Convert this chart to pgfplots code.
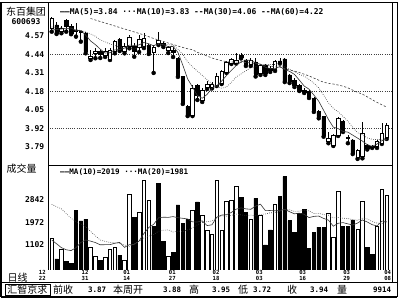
\documentclass[border=0pt]{standalone}
\usepackage{pgfplots}
\pgfplotsset{compat=1.18}
\usepackage{pgfplotstable}
\usepackage{fontspec}
\setmainfont{DejaVu Sans}
\newfontfamily\cjk{Noto Sans CJK SC}
\newfontfamily\mono{DejaVu Sans Mono}
\newcommand{\mf}{\mono\bfseries\fontsize{8}{9}\selectfont}
\newcommand{\lf}{\mono\bfseries\fontsize{7.95}{9}\selectfont}
\newcommand{\vf}{\mono\bfseries\fontsize{7.6}{9}\selectfont}
\newcommand{\bfn}{\mono\bfseries\fontsize{7.5}{9}\selectfont}
\newcommand{\df}{\mono\bfseries\fontsize{5.6}{6}\selectfont}
\newcommand{\cf}{\cjk\fontsize{10}{10}\selectfont}

\pgfplotstableread{
i o h l c
0 4.623 4.704 4.599 4.693
1 4.646 4.669 4.583 4.588
2 4.599 4.639 4.588 4.623
3 4.681 4.686 4.599 4.634
4 4.634 4.653 4.581 4.588
5 4.611 4.658 4.564 4.600
6 4.604 4.606 4.529 4.593
7 4.590 4.597 4.447 4.458
8 4.414 4.470 4.400 4.428
9 4.446 4.482 4.412 4.460
10 4.458 4.470 4.414 4.439
11 4.435 4.482 4.421 4.458
12 4.405 4.482 4.400 4.470
13 4.458 4.541 4.447 4.529
14 4.545 4.552 4.463 4.470
15 4.458 4.517 4.447 4.493
16 4.493 4.576 4.482 4.562
17 4.493 4.517 4.423 4.458
18 4.491 4.576 4.456 4.548
19 4.493 4.593 4.484 4.555
20 4.505 4.512 4.442 4.447
21 4.456 4.505 4.309 4.491
22 4.519 4.597 4.505 4.541
23 4.516 4.526 4.491 4.502
24 4.467 4.498 4.449 4.488
25 4.470 4.488 4.421 4.453
26 4.412 4.423 4.281 4.283
27 4.283 4.288 4.091 4.096
28 4.072 4.084 4.006 4.014
29 4.014 4.224 4.006 4.203
30 4.224 4.231 4.119 4.154
31 4.119 4.203 4.105 4.189
32 4.207 4.252 4.196 4.228
33 4.210 4.245 4.200 4.231
34 4.224 4.309 4.217 4.288
35 4.238 4.330 4.231 4.323
36 4.316 4.393 4.309 4.386
37 4.377 4.414 4.372 4.407
38 4.379 4.447 4.375 4.400
39 4.435 4.446 4.411 4.418
40 4.400 4.407 4.358 4.372
41 4.372 4.414 4.358 4.396
42 4.386 4.411 4.284 4.302
43 4.309 4.372 4.295 4.365
44 4.365 4.372 4.295 4.309
45 4.342 4.358 4.316 4.326
46 4.333 4.400 4.323 4.388
47 4.393 4.412 4.375 4.386
48 4.407 4.414 4.245 4.252
49 4.295 4.302 4.238 4.247
50 4.259 4.273 4.210 4.221
51 4.224 4.231 4.182 4.189
52 4.184 4.203 4.168 4.175
53 4.177 4.189 4.133 4.142
54 4.131 4.140 4.035 4.044
55 4.037 4.049 3.990 4.002
56 4.002 4.006 3.861 3.873
57 3.826 3.896 3.815 3.850
58 3.803 3.880 3.796 3.873
59 3.873 3.999 3.866 3.990
60 3.966 3.978 3.894 3.905
61 3.855 3.873 3.815 3.848
62 3.838 3.845 3.739 3.744
63 3.715 3.775 3.705 3.768
64 3.720 3.966 3.709 3.885
65 3.803 3.810 3.771 3.779
66 3.794 3.803 3.782 3.787
67 3.791 3.838 3.782 3.826
68 3.815 3.955 3.810 3.885
69 3.860 3.955 3.845 3.940
}\candles

\pgfplotstableread{
i m5 m10
0 4.611 4.632
1 4.614 4.628
2 4.618 4.625
3 4.621 4.621
4 4.625 4.618
5 4.606 4.614
6 4.608 4.607
7 4.575 4.597
8 4.534 4.583
9 4.508 4.567
10 4.476 4.541
11 4.449 4.528
12 4.451 4.513
13 4.471 4.502
14 4.473 4.491
15 4.484 4.480
16 4.505 4.477
17 4.502 4.477
18 4.506 4.489
19 4.523 4.498
20 4.514 4.499
21 4.500 4.502
22 4.516 4.509
23 4.507 4.507
24 4.494 4.508
25 4.495 4.504
26 4.453 4.476
27 4.364 4.440
28 4.267 4.387
29 4.210 4.352
30 4.150 4.322
31 4.131 4.292
32 4.158 4.261
33 4.201 4.234
34 4.218 4.214
35 4.252 4.201
36 4.291 4.211
37 4.327 4.242
38 4.361 4.281
39 4.387 4.302
40 4.397 4.324
41 4.399 4.345
42 4.378 4.352
43 4.371 4.366
44 4.349 4.368
45 4.340 4.368
46 4.338 4.368
47 4.355 4.366
48 4.332 4.351
49 4.320 4.334
50 4.299 4.319
51 4.259 4.299
52 4.217 4.286
53 4.195 4.264
54 4.154 4.237
55 4.110 4.204
56 4.047 4.153
57 3.982 4.099
58 3.928 4.061
59 3.918 4.036
60 3.898 4.004
61 3.893 3.970
62 3.872 3.927
63 3.851 3.889
64 3.830 3.874
65 3.805 3.852
66 3.793 3.843
67 3.809 3.841
68 3.833 3.842
69 3.843 3.837
}\pma

\pgfplotstableread{
i v10 v20
0 1290 2650
1 1150 2560
2 1000 2480
3 920 2300
4 890 2118
5 1000 2000
6 1200 1900
7 1290 1800
8 1250 1620
9 1195 1450
10 1109 1292
11 1114 1240
12 1114 1200
13 1169 1180
14 1202 1167
15 1012 1100
16 1115 1050
17 1123 1150
18 1254 1250
19 1541 1368
20 1770 1439
21 1888 1501
22 2139 1627
23 2160 1665
24 2154 1678
25 2183 1598
26 2141 1628
27 2118 1620
28 2093 1674
29 1982 1761
30 1977 1873
31 2021 1954
32 1841 1990
33 1870 2015
34 2159 2156
35 2241 2212
36 2255 2198
37 2342 2230
38 2466 2279
39 2515 2248
40 2477 2227
41 2461 2241
42 2584 2212
43 2656 2263
44 2412 2285
45 2414 2328
46 2403 2329
47 2421 2381
48 2459 2462
49 2368 2442
50 2290 2383
51 2313 2387
52 2271 2427
53 2144 2400
54 2192 2302
55 2204 2309
56 2115 2259
57 2049 2235
58 1818 2138
59 1928 2148
60 1954 2122
61 1906 2109
62 1865 2068
63 1938 2041
64 2056 2124
65 1978 2091
66 1876 1995
67 1828 1938
68 2012 1915
69 1998 1963
}\vma

\pgfplotsset{
  priceax/.style={at={(48pt,135pt)}, anchor=south west, scale only axis,
    width=344pt, height=162.5pt, xmin=-0.762, xmax=70.09,
    ymin=3.6621, ymax=4.804, axis line style={draw=none},
    xtick=\empty, ytick=\empty, major tick length=0pt, clip=true},
}

\begin{document}
\begin{tikzpicture}[x=1pt,y=1pt]
\useasboundingbox (0pt,0pt) rectangle (400pt,300pt);
\fill[white] (0pt,0pt) rectangle (400pt,300pt);

% price: grid, ticks, wicks
\begin{axis}[priceax,
  ytick={3.79,3.92,4.05,4.18,4.31,4.44,4.57},
  yticklabels={3.79,3.92,4.05,4.18,4.31,4.44,4.57},
  yticklabel style={font=\mf, anchor=east, inner sep=0pt, xshift=-3.5pt},
  extra y ticks={3.92,4.18,4.44}, extra y tick labels={},
  extra y tick style={grid=major, major grid style={black!75, line width=0.6pt, dash pattern=on 0.7pt off 1.5pt}}]
\addplot[only marks, mark=none, error bars/.cd, y dir=plus, y explicit, error mark=none,
  error bar style={black, solid, line width=0.7pt}]
  table[x=i, y=l, y error expr=\thisrow{h}-\thisrow{l}] {\candles};
\end{axis}

% price: bodies
\begin{axis}[priceax, ybar stacked, bar width=3.5pt]
\addplot[draw=none, fill=none] table[x=i, y expr={min(\thisrow{o},\thisrow{c})}] {\candles};
\addplot[draw=black, fill=white, line width=0.6pt] table[x=i, y expr={max(\thisrow{c}-\thisrow{o},0)}] {\candles};
\addplot[draw=black, fill=black, line width=0.6pt] table[x=i, y expr={max(\thisrow{o}-\thisrow{c},0)}] {\candles};
\end{axis}

% price: moving averages
\begin{axis}[priceax]
\addplot[black!80, line width=0.6pt] table[x=i, y=m5] {\pma};
\addplot[black!75, line width=0.6pt, dash pattern=on 0.7pt off 1.4pt] table[x=i, y=m10] {\pma};
\addplot[black!75, line width=0.6pt, dash pattern=on 2.2pt off 1.8pt] coordinates {
(8,4.692) (9,4.681) (11,4.660) (13,4.639) (15,4.618) (17,4.597) (19,4.576) (21,4.551)
(23,4.530) (25,4.509) (27,4.488) (28,4.479) (29,4.472) (30,4.454) (31,4.441) (32,4.428)
(33,4.414) (34,4.404) (35,4.395) (36,4.388) (37,4.386) (38,4.385) (39,4.384) (40,4.382)
(41,4.380) (42,4.374) (43,4.369) (44,4.363) (45,4.358) (46,4.352) (47,4.350) (48,4.340)
(49,4.329) (50,4.322) (51,4.312) (52,4.300) (53,4.288) (54,4.273) (55,4.258) (56,4.244)
(57,4.236) (58,4.231) (59,4.224) (60,4.216) (61,4.204) (62,4.188) (63,4.173) (64,4.160)
(65,4.141) (66,4.121) (67,4.102) (68,4.085) (69,4.069)};
\end{axis}

% volume
\begin{axis}[at={(48pt,30pt)}, anchor=south west, scale only axis,
  width=344pt, height=105pt, xmin=-0.762, xmax=70.09,
  ymin=150.25, ymax=4147.6, axis line style={draw=none},
  xtick=\empty, ytick={1102,1972,2842}, yticklabels={1102,1972,2842},
  yticklabel style={font=\mf, anchor=east, inner sep=0pt, xshift=-3.5pt},
  major tick length=0pt, clip=true]
\addplot[ybar, bar width=3.5pt, bar shift=0pt, draw=black, fill=white, line width=0.6pt] coordinates {
(0,1357) (2,938) (8,1014) (9,683) (11,619) (12,938) (13,1014) (15,531) (16,3044) (18,2332)
(19,3550) (20,2789) (24,657) (29,2434) (31,2244) (32,1646) (33,1521) (34,3550) (35,1646)
(36,2766) (37,2789) (38,3321) (41,2080) (43,2244) (46,2651) (57,2309) (58,1395) (59,3131)
(63,1711) (64,2766) (67,1825) (68,3234) (69,2994)};
\addplot[ybar, bar width=3.5pt, bar shift=0pt, draw=black, fill=black, line width=0.6pt] coordinates {
(1,569) (3,466) (4,390) (5,2434) (6,2016) (7,2080) (10,504) (14,721) (17,2157) (21,1799)
(22,3451) (23,1228) (25,824) (26,2625) (27,1928) (28,2080) (30,2739) (39,2929) (40,2358)
(42,2880) (44,1102) (45,1673) (47,2967) (48,3702) (49,2027) (50,1570) (51,2309) (52,2461)
(53,976) (54,1585) (55,1787) (56,1761) (60,1825) (61,1825) (62,2054) (65,999) (66,748)};
\addplot[black!80, line width=0.6pt] table[x=i, y=v10] {\vma};
\addplot[black!75, line width=0.6pt, dash pattern=on 0.7pt off 1.4pt] table[x=i, y=v20] {\vma};
\end{axis}

% frames
\draw[line width=1pt] (1pt,3pt) rectangle (397pt,297.5pt);
\draw[line width=2pt] (1pt,3pt) -- (1pt,297.5pt);
\draw[line width=1.5pt] (1pt,3pt) -- (397pt,3pt);
\draw[line width=0.8pt] (48pt,297.5pt) -- (48pt,30pt);
\draw[line width=0.8pt] (392pt,297.5pt) -- (392pt,17.3pt);
\draw[line width=0.8pt] (48pt,135pt) -- (392pt,135pt);
\draw[line width=0.8pt] (1pt,17.3pt) -- (397pt,17.3pt);
\draw[line width=0.8pt] (5pt,4.5pt) rectangle (50pt,16pt);

% left labels
\node[font=\cf] at (26pt,288pt) {东百集团};
\node[font=\mf] at (26pt,278.3pt) {600693};
\node[font=\cf, anchor=west] at (3pt,131pt) {成交量};
\node[font=\cf, anchor=west] at (4pt,22.5pt) {日线};

% legends
\node[font=\lf, anchor=west, inner sep=0pt] at (60pt,288pt) {——MA(5)=3.84 ···MA(10)=3.83 --MA(30)=4.06 --MA(60)=4.22};
\node[font=\vf, anchor=west, inner sep=0pt] at (60pt,128pt) {——MA(10)=2019 ···MA(20)=1981};

% date labels
\foreach \x/\m/\d in {42.3/12/22, 85/12/31, 126.7/01/14, 172.3/01/27, 216/02/18, 259.3/03/03, 302.7/03/16, 346.7/03/29, 387.7/04/08}{
  \node[font=\df, inner sep=0pt] at (\x pt,27.3pt) {\m};
  \node[font=\df, inner sep=0pt] at (\x pt,21.2pt) {\d};
}

% bottom info bar
\node[font=\cf, inner sep=0pt] at (27.5pt,10.2pt) {汇智京求};
\node[font=\cf, anchor=west, inner sep=0pt] at (53pt,10.2pt) {前收};
\node[font=\bfn, anchor=west, inner sep=0pt] at (88pt,10.2pt) {3.87};
\node[font=\cf, anchor=west, inner sep=0pt] at (113pt,10.2pt) {本周开};
\node[font=\bfn, anchor=west, inner sep=0pt] at (163pt,10.2pt) {3.88};
\node[font=\cf, anchor=west, inner sep=0pt] at (189pt,10.2pt) {高};
\node[font=\bfn, anchor=west, inner sep=0pt] at (212pt,10.2pt) {3.95};
\node[font=\cf, anchor=west, inner sep=0pt] at (238pt,10.2pt) {低};
\node[font=\bfn, anchor=west, inner sep=0pt] at (253pt,10.2pt) {3.72};
\node[font=\cf, anchor=west, inner sep=0pt] at (287pt,10.2pt) {收};
\node[font=\bfn, anchor=west, inner sep=0pt] at (310pt,10.2pt) {3.94};
\node[font=\cf, anchor=west, inner sep=0pt] at (337pt,10.2pt) {量};
\node[font=\bfn, anchor=west, inner sep=0pt] at (373pt,10.2pt) {9914};
\end{tikzpicture}
\end{document}
